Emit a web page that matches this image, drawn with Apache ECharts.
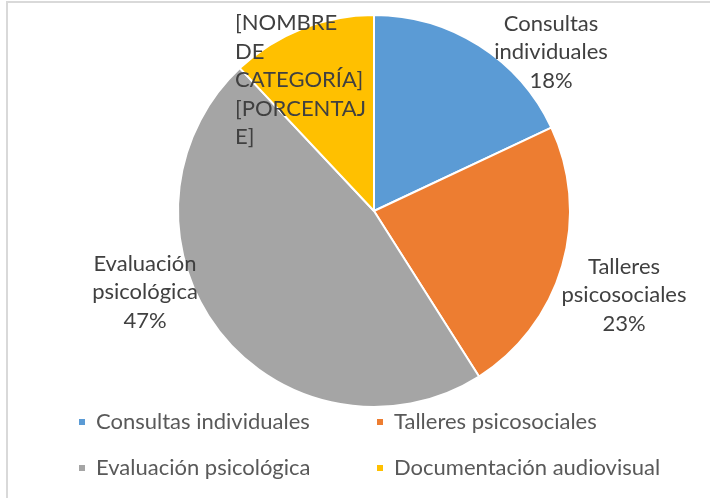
<!DOCTYPE html>
<html>
<head>
<meta charset="utf-8">
<script src="https://cdn.jsdelivr.net/npm/echarts@6/dist/echarts.min.js"></script>
<style>
html, body { margin: 0; padding: 0; background: #fff; }
#main { width: 710px; height: 498px; }
</style>
</head>
<body>
<div id="main"></div>
<script>
// datos del gráfico
const categories = ['Consultas individuales', 'Talleres psicosociales', 'Evaluación psicológica', 'Documentación audiovisual'];
const values = [18, 23, 47, 12];
const colors = ['#5B9BD5', '#ED7D31', '#A5A5A5', '#FFC000'];
const labelTexts = ['Consultas\nindividuales\n18%', 'Talleres\npsicosociales\n23%', 'Evaluación\npsicológica\n47%', '[NOMBRE\nDE\nCATEGORÍA]\n[PORCENTAJ\nE]'];

// posición de cada etiqueta (x, y, alineación)
const labelPos = [
    { x: 551, y: 52, align: 'center' },
    { x: 624, y: 295, align: 'center' },
    { x: 145, y: 292, align: 'center' },
    { x: 235, y: 80, align: 'left' }
];

const font = 'Lato, "Open Sans", sans-serif';

const myChart = echarts.init(document.getElementById('main'));
myChart.setOption({
    animation: false,
    graphic: [{
        type: 'rect',
        shape: { x: 7, y: 2, width: 760, height: 560 },
        style: { fill: 'none', stroke: '#d9d9d9', lineWidth: 2 },
        silent: true
    }],
    legend: [
        {
            orient: 'vertical',
            left: 72,
            top: 406,
            itemWidth: 8,
            itemHeight: 8,
            itemGap: 24,
            icon: 'rect',
            data: [categories[0], categories[2]],
            textStyle: { fontFamily: font, fontSize: 22, color: '#595959', padding: [0, 0, 0, 5] }
        },
        {
            orient: 'vertical',
            left: 370,
            top: 406,
            itemWidth: 8,
            itemHeight: 8,
            itemGap: 24,
            icon: 'rect',
            data: [categories[1], categories[3]],
            textStyle: { fontFamily: font, fontSize: 22, color: '#595959', padding: [0, 0, 0, 5] }
        }
    ],
    series: [{
        type: 'pie',
        center: [374, 211],
        radius: 196,
        startAngle: 90,
        clockwise: true,
        avoidLabelOverlap: false,
        itemStyle: { borderColor: '#fff', borderWidth: 2 },
        label: {
            show: true,
            position: 'outside',
            fontFamily: font,
            fontSize: 22,
            lineHeight: 28.5,
            color: '#404040',
            formatter: p => labelTexts[p.dataIndex]
        },
        labelLine: { show: false },
        labelLayout: p => ({
            x: labelPos[p.dataIndex].x,
            y: labelPos[p.dataIndex].y,
            align: labelPos[p.dataIndex].align,
            verticalAlign: 'middle'
        }),
        data: categories.map((c, i) => ({
            name: c,
            value: values[i],
            itemStyle: { color: colors[i] }
        }))
    }]
});
</script>
</body>
</html>
